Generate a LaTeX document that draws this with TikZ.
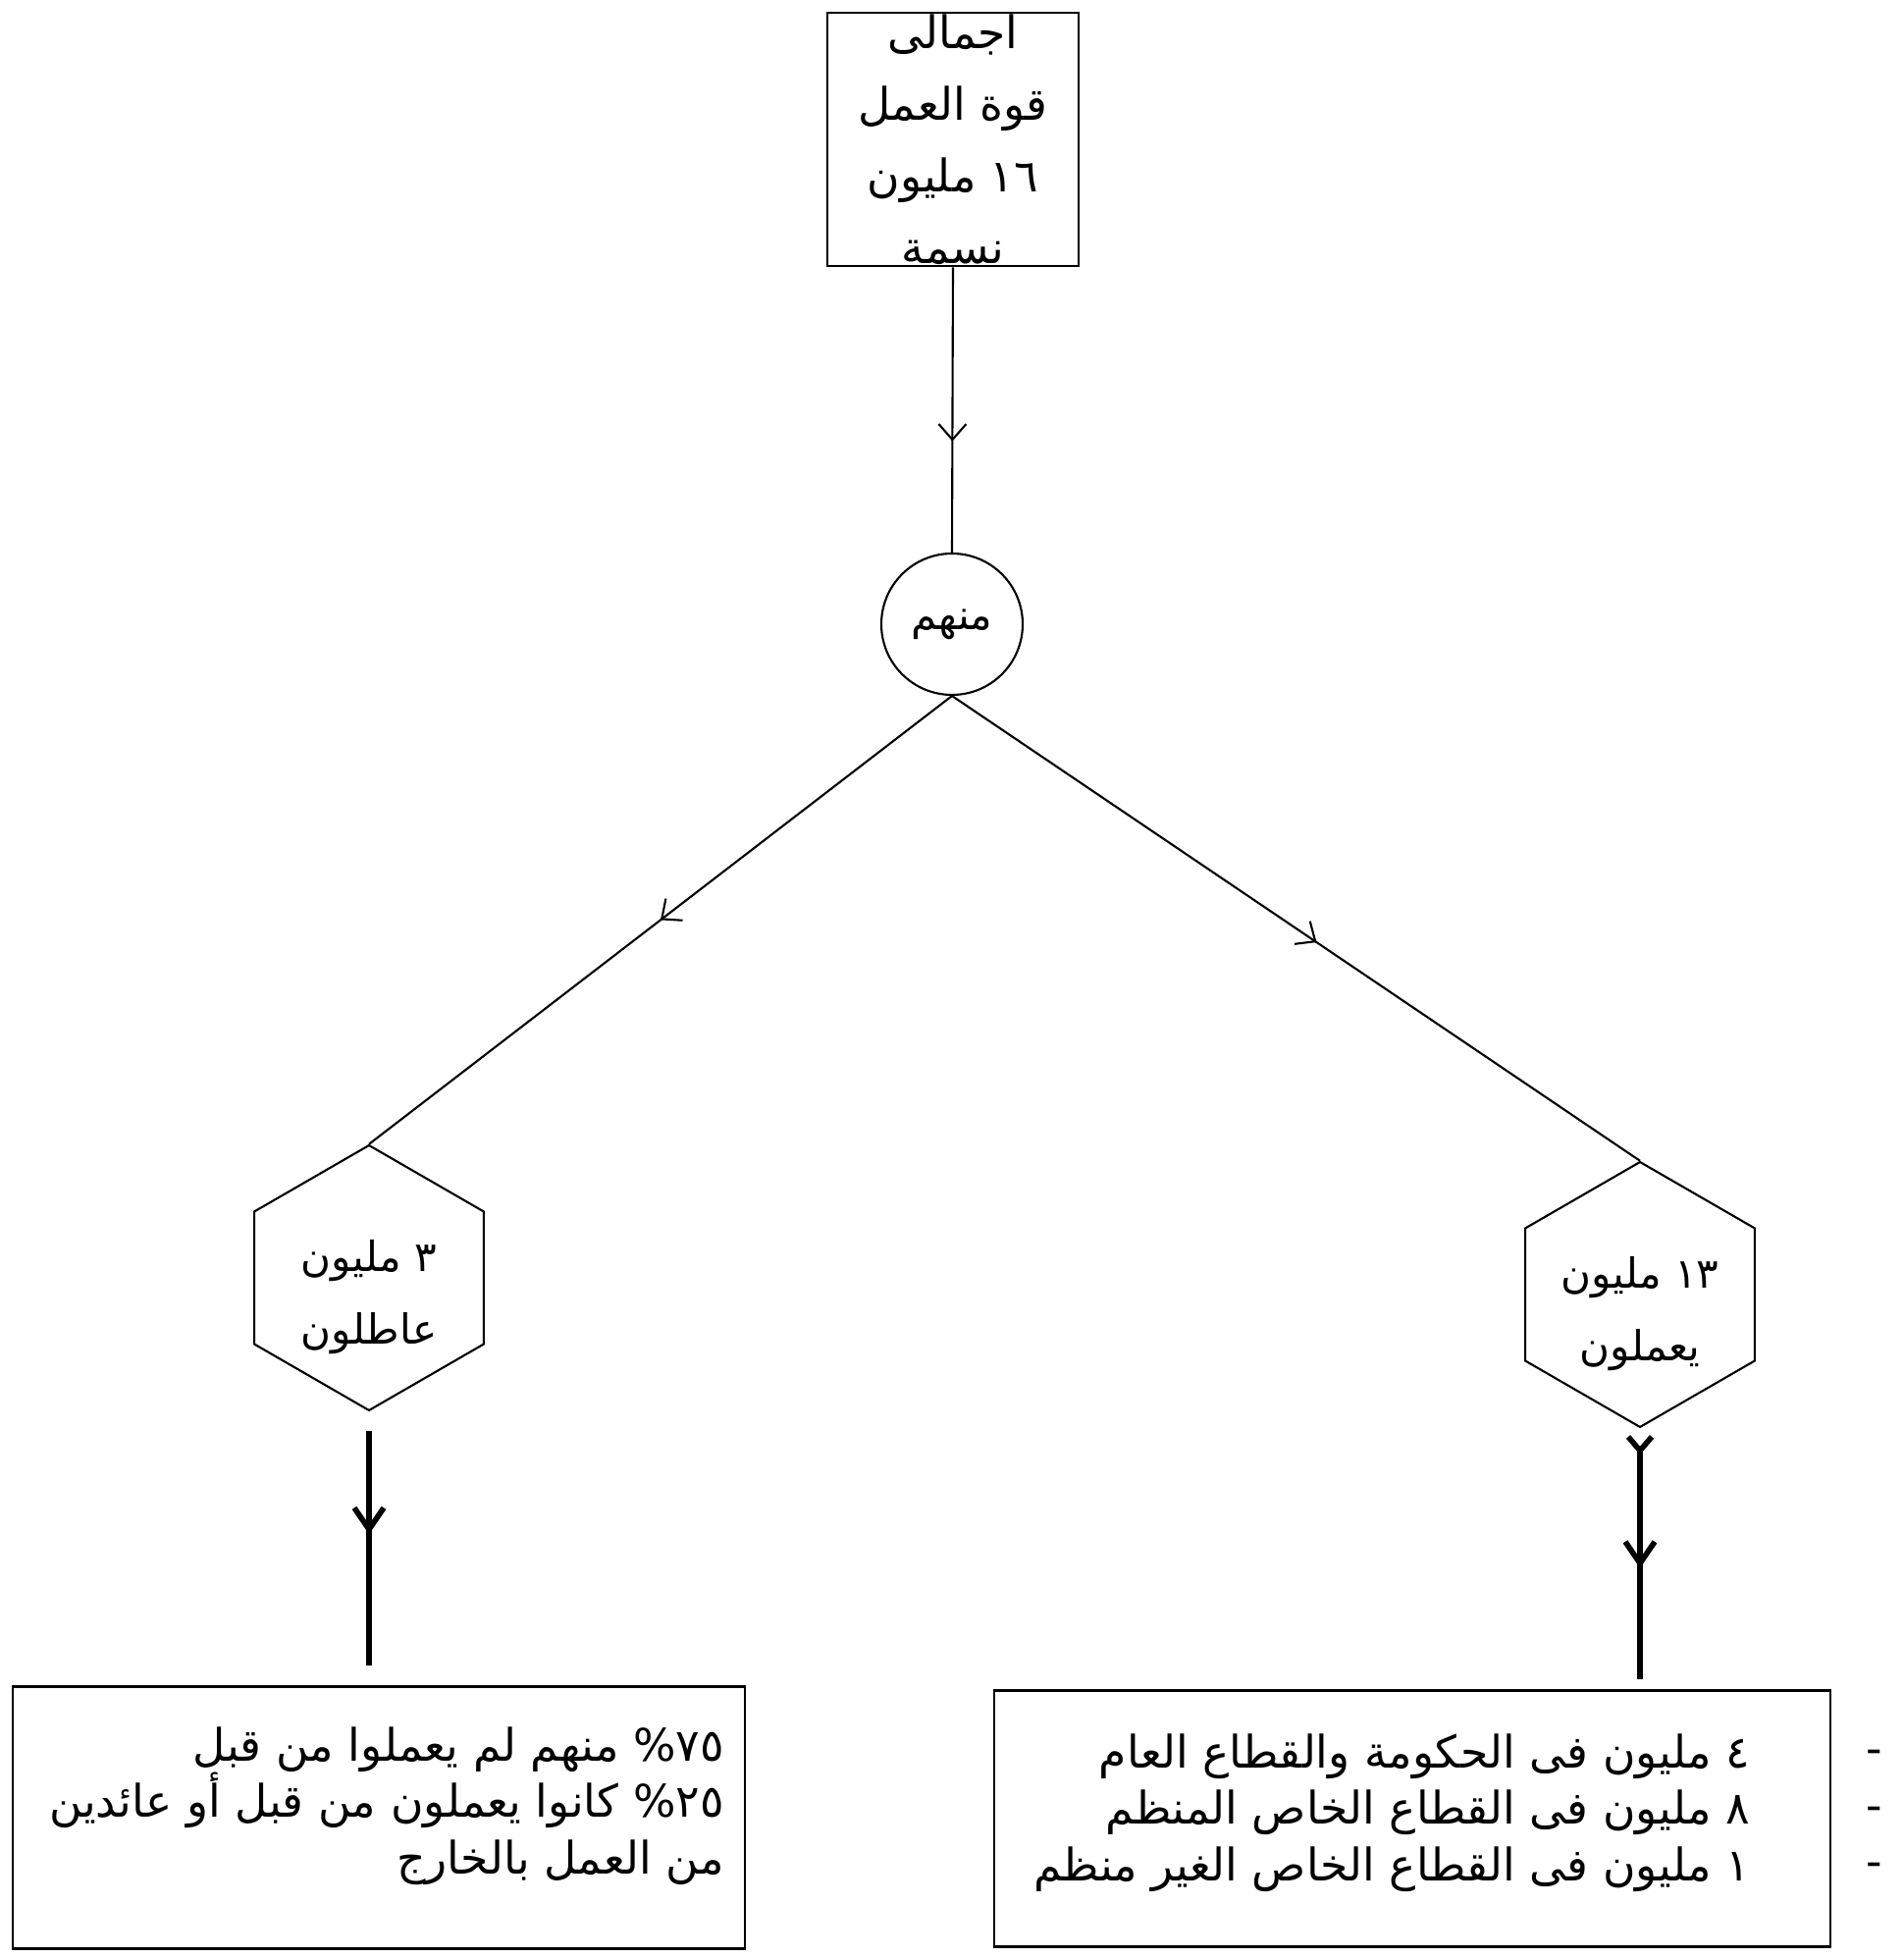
\documentclass[tikz,border=0pt]{standalone}
\usepackage{fontspec}
\newfontfamily\arabicfont[Script=Arabic]{DejaVu Sans}
\usetikzlibrary{positioning,shapes.geometric,arrows.meta,decorations.markings}
\TeXXeTstate=1
\newcommand\arline[1]{\beginR #1\endR}

\begin{document}
\begin{tikzpicture}
  [every node/.style={font=\arabicfont\fontsize{12}{21}\selectfont, inner sep=0pt},
   box/.style={draw, line width=0.8pt},
   hexa/.style={draw, line width=0.6pt, regular polygon, regular polygon sides=6,
                shape border rotate=30, minimum size=2.7cm},
   listtext/.style={align=right, font=\arabicfont\fontsize{13}{16.3}\selectfont},
   thin line/.style={line width=0.6pt},
   thick line/.style={line width=1.6pt},
   midarr/.style={postaction={decorate}, decoration={markings,
       mark=at position #1 with {\arrow{Straight Barb[length=1.6mm,width=2.8mm]}}}},
   thickarr/.style={postaction={decorate}, decoration={markings,
       mark=at position #1 with {\arrow{Straight Barb[length=2.2mm,width=3mm]}}}}]
  \useasboundingbox (0,0) rectangle (19.39,19.94);

  \node [box, align=center, minimum width=2.56cm, minimum height=2.58cm,
         font=\arabicfont\fontsize{13}{20.8}\selectfont] (total) at (9.71,18.52)
        {\arline{اجمالى}\\ \arline{قوة العمل}\\ \arline{١٦ مليون}\\ \arline{نسمة}};
  \node [draw, thin line, circle, minimum size=1.44cm] (among) at (9.70,13.58) {\arline{منهم}};

  \node [hexa] (jobless) at (3.76,6.92) {};
  \node [align=center] (joblesslbl) at ([yshift=-2mm]jobless.center)
        {\arline{٣ مليون}\\ \arline{عاطلون}};
  \node [hexa] (working) at (16.71,6.75) {};
  \node [align=center] (workinglbl) at ([yshift=-2mm]working.center)
        {\arline{١٣ مليون}\\ \arline{يعملون}};

  \node [box, minimum width=7.46cm, minimum height=2.67cm] (joblessbox) at (3.86,1.42) {};
  \node [listtext, below left=0.42cm and 0.22cm of joblessbox.north east] (joblesstxt)
        {\arline{٧٥\% منهم لم يعملوا من قبل}\\
         \arline{٢٥\% كانوا يعملون من قبل أو عائدين}\\
         \arline{من العمل بالخارج}};

  \node [box, minimum width=8.52cm, minimum height=2.61cm] (workbox) at (14.39,1.41) {};
  \node [listtext, below left=0.45cm and 0.83cm of workbox.north east] (worktxt)
        {\arline{٤ مليون فى الحكومة والقطاع العام}\\
         \arline{٨ مليون فى القطاع الخاص المنظم}\\
         \arline{١ مليون فى القطاع الخاص الغير منظم}};
  \node [listtext, align=center] (bullets) at (19.10,1.46) {-\\-\\-};

  \draw [thin line, midarr=0.61] (total.south) -- (among.north);
  \draw [thin line, midarr=0.5] (among.south) -- (jobless.north);
  \draw [thin line, midarr=0.53] (among.south) -- (working.north);
  \draw [thick line, thickarr=0.44] ([yshift=-2mm]jobless.south)
        -- ([yshift=2mm]jobless.south |- joblessbox.north);
  \draw [thick line, postaction={decorate}, decoration={markings,
           mark=at position 0.03 with {\arrow{Straight Barb[length=1.4mm,width=2.4mm]}},
           mark=at position 0.52 with {\arrow{Straight Barb[length=2.2mm,width=3mm]}}}]
        ([yshift=-2mm]working.south) -- ([yshift=1mm]working.south |- workbox.north);
\end{tikzpicture}
\end{document}
